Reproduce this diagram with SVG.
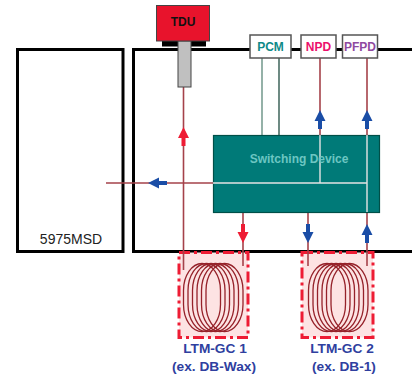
<svg xmlns="http://www.w3.org/2000/svg" width="412" height="377" viewBox="0 0 412 377">
<style>
text{font-family:"Liberation Sans",Arial,sans-serif;text-anchor:middle}
.b{font-weight:700;font-size:12px}
.frame{fill:#fff;stroke:#000;stroke-width:3}
.box{fill:#fff;stroke:#555;stroke-width:1.5}
.red{stroke:#a5424a;stroke-width:1.6;fill:none}
.white{stroke:#e4e4e4;stroke-width:1.4;fill:none}
.coil{fill:none;stroke:#96222a;stroke-width:1.3}
.oven{fill:#fde3e3;stroke:#ee1c34;stroke-width:3;stroke-dasharray:11 4 3 4}
.gc{fill:#2f3f9f;font-weight:700;font-size:13.700px}
</style>
<defs>
<g id="rings">
<rect x="0" y="0" width="37" height="68" rx="18.500" ry="27" class="coil"/>
<rect x="4.500" y="0" width="37" height="68" rx="18.500" ry="27" class="coil"/>
<rect x="9" y="0" width="37" height="68" rx="18.500" ry="27" class="coil"/>
<rect x="13.500" y="0" width="37" height="68" rx="18.500" ry="27" class="coil"/>
<rect x="18" y="0" width="37" height="68" rx="18.500" ry="27" class="coil"/>
<rect x="22.500" y="0" width="37" height="68" rx="18.500" ry="27" class="coil"/>
</g>
<path id="up" d="M0 0L5.500 11H2V19H-2V11H-5.500Z"/>
</defs>
<g id="node-5975msd"><rect class="frame" x="17.500" y="49.500" width="105.500" height="202"/><text x="71" y="244" font-size="14" fill="#222">5975MSD</text></g>
<g id="node-main"><path class="frame" d="M414 49.500H133.500V251.500H414"/></g>
<g id="node-oven1"><rect class="oven" x="179" y="252.500" width="69" height="85"/></g>
<g id="node-oven2"><rect class="oven" x="302" y="252.500" width="71" height="85"/></g>
<g id="connectors">
<path class="red" d="M183.500 87V270"/>
<path class="red" d="M106 183H213"/>
<path class="red" d="M243 212V266"/>
<path class="red" d="M308 212V266"/>
<path class="red" d="M367 212V266"/>
<path class="red" d="M320 58V135"/>
<path class="red" d="M367 58V135"/>
<path d="M262 58V135" fill="none" stroke="#4d7d6e" stroke-width="1.200"/>
<path d="M279 58V135" fill="none" stroke="#0c3c30" stroke-width="1.200"/>
</g>
<g id="node-switch"><rect x="213.500" y="135.500" width="166" height="77" fill="#007a78" stroke="#004f48" stroke-width="1.200"/>
<path class="white" d="M213 183H367M320 135V183M367 135V212"/>
<text x="299" y="163" class="b" fill="#6cc6c2">Switching Device</text></g>
<g id="arrows">
<use href="#up" x="183.500" y="127" fill="#ee1c34"/>
<use href="#up" x="320" y="110" fill="#1a4da6"/>
<use href="#up" x="367" y="110" fill="#1a4da6"/>
<use href="#up" x="367" y="224" fill="#1a4da6"/>
<use href="#up" transform="translate(243 243) rotate(180)" fill="#ee1c34"/>
<use href="#up" transform="translate(308 243) rotate(180)" fill="#1a4da6"/>
<use href="#up" transform="translate(148 183) rotate(-90)" fill="#1a4da6"/>
</g>
<g id="node-coil1"><use href="#rings" x="183.500" y="263.500"/><text x="215" y="353" class="gc">LTM-GC 1</text><text x="214" y="371" class="gc">(ex. DB-Wax)</text></g>
<g id="node-coil2"><use href="#rings" x="308.500" y="263.500"/><text x="342" y="353" class="gc">LTM-GC 2</text><text x="344" y="371" class="gc">(ex. DB-1)</text></g>
<g id="node-tdu">
<rect x="162" y="41" width="44" height="5.500" fill="#000"/>
<rect x="178" y="41" width="13" height="46" fill="#c0c0c0" stroke="#444" stroke-width="1"/>
<rect x="156.500" y="5.500" width="53" height="35.500" fill="#e8132c" stroke="#444" stroke-width="1"/>
<text x="183" y="26" class="b" fill="#111">TDU</text></g>
<g id="node-pcm"><rect class="box" x="250" y="35" width="41" height="23"/><text x="270.500" y="51" class="b" fill="#0f8a88">PCM</text></g>
<g id="node-npd"><rect class="box" x="301" y="35" width="35" height="23"/><text x="318.500" y="51" class="b" fill="#ec0f6b">NPD</text></g>
<g id="node-pfpd"><rect class="box" x="342.500" y="35" width="35" height="23"/><text x="360" y="51" class="b" fill="#8f4aa0">PFPD</text></g>
</svg>
